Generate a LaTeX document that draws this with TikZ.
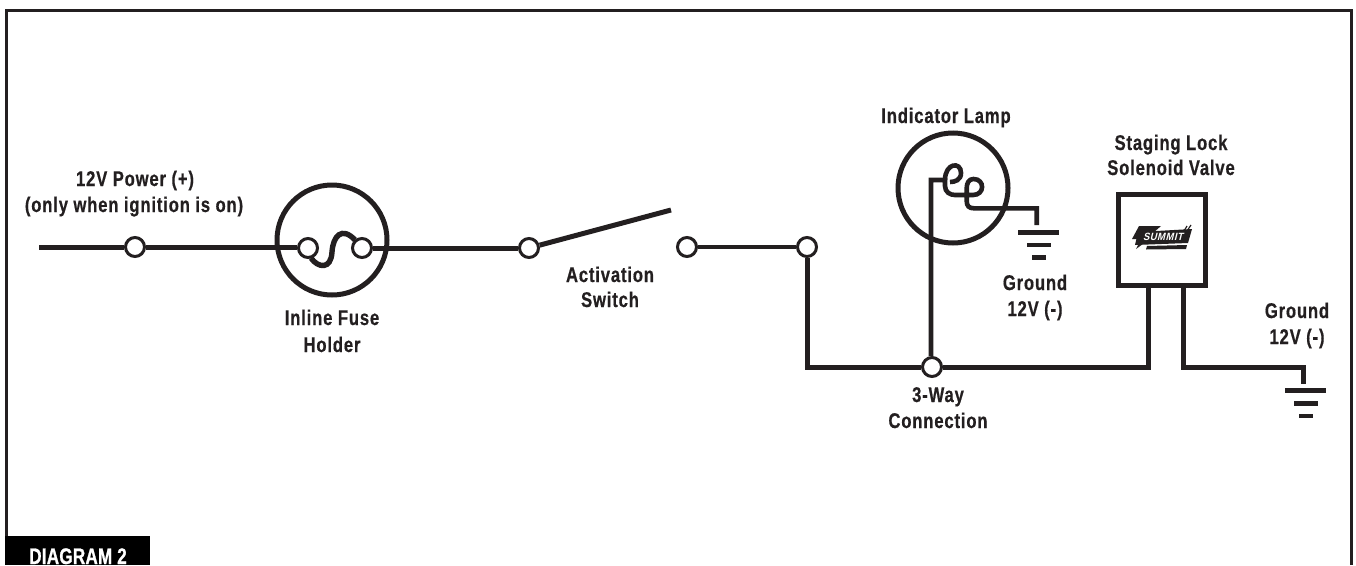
\documentclass[tikz,border=0pt]{standalone}
\usepackage{fontspec}
\setmainfont{Liberation Sans}[BoldFont={Liberation Sans Bold}]
\newfontfamily\labelfont{Liberation Sans Bold}[FakeStretch=0.78,LetterSpace=4,FakeBold=0.6]
\newfontfamily\tagfont{Liberation Sans Bold}[FakeStretch=0.76,LetterSpace=1,FakeBold=1]
\newfontfamily\logofont{Liberation Sans Bold}[FakeSlant=0.25,FakeStretch=0.9,LetterSpace=5]
\definecolor{ink}{HTML}{231F20}
\tikzset{
  wire/.style={draw=ink,line width=5pt},
  thinwire/.style={draw=ink,line width=4.6pt},
  term/.style={circle,draw=ink,line width=3pt,fill=white,minimum size=19pt,inner sep=0pt},
  ring/.style={circle,draw=ink,line width=5pt,minimum size=110pt,inner sep=0pt},
  lab/.style={anchor=base,inner sep=0pt,text=ink,font=\labelfont\fontsize{21.3}{23}\selectfont},
  bar/.style={fill=ink,draw=none}
}
\newcommand{\gnd}[2]{%
  \fill[ink] (#1-20.5,#2-2.3) rectangle (#1+20.5,#2+2.3);
  \fill[ink] (#1-11.5,#2+10.2) rectangle (#1+12.5,#2+14.8);
  \fill[ink] (#1-6.5,#2+23) rectangle (#1+7.5,#2+27.5);
}
\begin{document}
\begin{tikzpicture}[x=1pt,y=-1pt]
\useasboundingbox (0,0) rectangle (1356,565);
% frame
\coordinate (fbl) at (6,537); \coordinate (ftl) at (6,10);
\coordinate (ftr) at (1351,10); \coordinate (fbr) at (1351,565);
\draw[draw=ink,line width=3pt] (fbl) -- (ftl) -- (ftr) -- (fbr);
\node[anchor=north west,fill=black,minimum width=145pt,minimum height=29pt,inner sep=0pt] (tag) at (5,536) {};
\node[lab,text=white,font=\tagfont\fontsize{22.5}{24}\selectfont] (tagtext) at (78,564) {DIAGRAM 2};
% terminals and rings
\coordinate (start) at (39,247);
\node[term] (t1) at (135,247) {};
\node[ring] (fuse) at (332,240) {};
\node[term] (fl) at (308,248) {};
\node[term] (fr) at (362,248) {};
\node[term] (t2) at (529,248) {};
\coordinate (armend) at (671,210);
\node[term] (t3) at (687,247) {};
\node[term] (t4) at (807,247) {};
\node[term] (t5) at (932,367) {};
\node[ring] (lamp) at (953,188) {};
% connectors
\draw[wire] (start) -- (t1) -- (fl.west |- t1);
\draw[wire] (fr) -- (t2);
\draw[wire] (t2) -- (armend);
\draw[wire,line width=4.4pt] (t3) -- (t4);
\coordinate (c1) at (807,367);
\draw[wire,miter limit=10] (t4) -- (c1) -- (t5);
% fuse element
\draw[wire,line width=5.4pt] (311,258) .. controls (318,268) and (331,270) .. (332,252) .. controls (333,236) and (342,226) .. (355,240);
% lamp feed + filament
\coordinate (lampa) at (931,180);
\coordinate (lampb) at (945,180);
\coordinate (lampc) at (1036.7,208.3);
\coordinate (lampd) at (1036.7,225);
\draw[thinwire] (t5.north -| lampa) -- (lampa) -- (lampb) -- (945,186) .. controls (945,192) and (950,195) .. (955,195) -- (973,195) .. controls (985,195) and (985,179) .. (973.5,179) .. controls (969,179) and (966.7,183) .. (966.7,188) -- (966.7,201) .. controls (966.7,206) and (969,208.3) .. (974,208.3) -- (lampc) -- (lampd);
\draw[thinwire] (lampb) .. controls (945,163) and (961,161) .. (961,173) .. controls (961,180) and (955,182) .. (950,182);
\gnd{1038.5}{232.3}
% solenoid
\node[draw=ink,line width=4.7pt,minimum width=87pt,minimum height=90.5pt,inner sep=0pt] (valve) at (1162,240) {};
\coordinate (v1) at (1148,287);
\coordinate (v2) at (1183,287);
\coordinate (v1b) at (1148,367);
\coordinate (v2b) at (1183,367);
\coordinate (g2a) at (1303,367);
\coordinate (g2b) at (1303,384);
\draw[wire] (t5) -- (v1b) -- (v1);
\draw[wire] (v2) -- (v2b) -- (g2a) -- (g2b);
\gnd{1305.5}{390.7}
% logo
\fill[ink] (1138,232) -- (1192,229) -- (1188,243) -- (1135,245) -- cycle;
\fill[ink] (1139,226) -- (1161,226) -- (1153,233) -- (1158,233) -- (1136,249) -- (1141,239) -- (1132,239) -- cycle;
\fill[ink] (1147,246) -- (1187,245) -- (1186,249) -- (1146,249.5) -- cycle;
\draw[ink,line width=1.2pt] (1191,225) -- (1187,231) (1187,226) -- (1184,231);
\node[inner sep=0pt,text=white,font=\logofont\fontsize{10.5}{11}\selectfont] (logo) at (1163,237) {SUMMIT};
% labels
\node[lab] (a1) at (135,186) {12V Power (+)};
\node[lab] (a2) at (134,212) {(only when ignition is on)};
\node[lab] (b1) at (332,325) {Inline Fuse};
\node[lab] (b2) at (332,352) {Holder};
\node[lab] (c1t) at (610,282) {Activation};
\node[lab] (c2t) at (610,307) {Switch};
\node[lab] (d1) at (946,123) {Indicator Lamp};
\node[lab] (e1) at (1171,150) {Staging Lock};
\node[lab] (e2) at (1171,175) {Solenoid Valve};
\node[lab] (f1) at (1035,290) {Ground};
\node[lab] (f2) at (1035,316) {12V (-)};
\node[lab] (g1) at (1297,318) {Ground};
\node[lab] (g2) at (1297,344) {12V (-)};
\node[lab] (h1) at (938,402) {3-Way};
\node[lab] (h2) at (938,428) {Connection};
\end{tikzpicture}
\end{document}
